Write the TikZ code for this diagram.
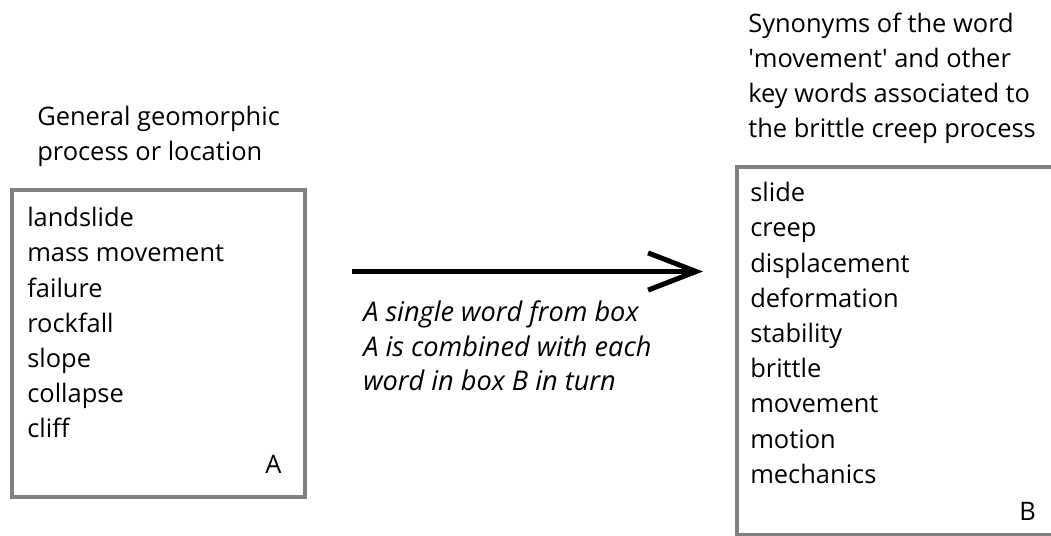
\documentclass[tikz,border=0pt]{standalone}
\usepackage{fontspec}
\setmainfont{Open Sans}
\usetikzlibrary{arrows.meta}
\definecolor{boxgray}{RGB}{128,128,128}
\tikzset{
  word/.style={anchor=base west, inner sep=0pt, font=\fontsize{18.1}{24.9}\selectfont},
  wordit/.style={word, font=\fontsize{19.3}{24.9}\selectfont\itshape},
  box/.style={draw=boxgray, line width=2.85pt},
}

\begin{document}
\begin{tikzpicture}[x=0.025cm, y=-0.025cm]
  \useasboundingbox (0,0) rectangle (1051,536);
  \clip (0,0) rectangle (1051,536);

  %% box A
  \node[word] (titleA1) at (37,125.7) {General geomorphic};
  \node[word] (titleA2) at (37,160.7) {process or location};
  \draw[box] (12,190) rectangle (305,497);
  \foreach \w [count=\i] in {landslide, mass movement, failure, rockfall, slope, collapse, cliff}
    \node[word] (a\i) at (27,{226.7+35.2*(\i-1)}) {\w};
  \node[word] (labelA) at (265,473) {A};

  %% box B
  \node[word] (titleB1) at (748,33) {Synonyms of the word};
  \node[word] (titleB2) at (748,68) {\textquotesingle movement\textquotesingle{} and other};
  \node[word] (titleB3) at (748,103) {key words associated to};
  \node[word] (titleB4) at (748,138) {the brittle creep process};
  \draw[box] (737,167) rectangle (1070,535);
  \foreach \w [count=\i] in {slide, creep, displacement, deformation, stability, brittle, movement, motion, mechanics}
    \node[word] (b\i) at (750,{201.7+35.2*(\i-1)}) {\w};
  \node[word] (labelB) at (1019,520) {B};

  %% arrow
  \coordinate (from) at (352,271.5);
  \coordinate (to) at (703,271.5);
  \draw[line width=3.56pt, -{Straight Barb[length=1.2cm, width=0.93cm]}] (from) -- (to);
  \node[wordit] (note1) at (363,321.7) {A single word from box};
  \node[wordit] (note2) at (363,356.5) {A is combined with each};
  \node[wordit] (note3) at (363,391) {word in box B in turn};
\end{tikzpicture}
\end{document}
